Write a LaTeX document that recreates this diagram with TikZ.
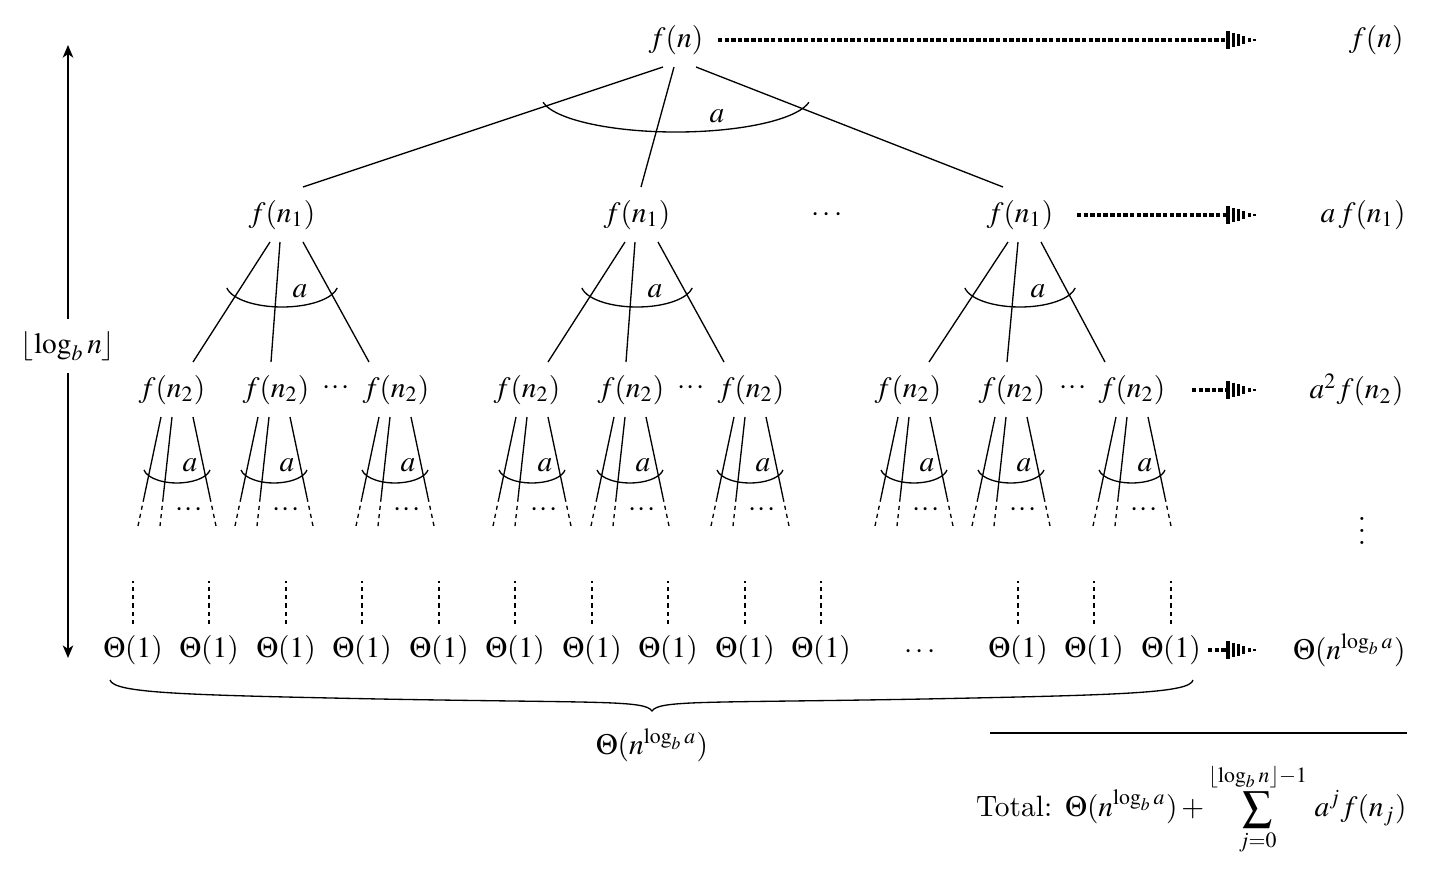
\documentclass[tikz,border=0pt]{standalone}
\usepackage{mathptmx}
\usetikzlibrary{calc,arrows.meta}

\tikzset{
  lbl/.style={inner sep=0pt},
  edge/.style={line width=0.45pt},
  leafdash/.style={line width=0.45pt, dash pattern=on 1.4pt off 1.4pt},
  dotline/.style={line width=1.4pt, dash pattern=on 1.5pt off 0.75pt},
  tipbar/.style={line width=1.05pt},
}

% three closely spaced centred dots
\newcommand\smalldots{${\cdot}\mkern1mu{\cdot}\mkern1mu{\cdot}$}

% thick dotted cost arrow, ending in a striped triangular tip at #2
\newcommand\costarrow[2]{%
  \draw[dotline] (#1) -- ($(#2)+(-31,0)$);
  \foreach \k in {0,...,5}{
    \draw[tipbar] ($(#2)+({-29+\k*5.3},{-9*(1-(\k*5.3+1)/30)})$)
               -- ($(#2)+({-29+\k*5.3},{9*(1-(\k*5.3+1)/30)})$);
  }
}

% fan of three edges below a level-2 node, fading into dashes
\newcommand\leaffan[2]{%
  \foreach \t/\b in {-11/-34, 0/-12, 21/44}{
    \coordinate (ft) at ($(#1)+({#2+\t},27)$);
    \coordinate (fb) at ($(#1)+({#2+\b},136)$);
    \draw[edge] (ft) -- ($(ft)!0.74!(fb)$);
    \draw[leafdash] ($(ft)!0.74!(fb)$) -- (fb);
  }
  \draw[edge] ($(#1)+({#2-28},80)$) arc[start angle=170,end angle=10,x radius=33.5,y radius=15.7];
  \node[lbl] at ($(#1)+({#2+18},75)$) {$a$};
  \node[lbl] at ($(#1)+({#2+17},120)$) {\smalldots};
}

\begin{document}
\begin{tikzpicture}[x=0.34pt,y=-0.34pt]
\useasboundingbox (0,0) rectangle (1437,873);

% ---- root ----
\node[lbl] (r) at (676,40) {$f(n)$};

% ---- level 1 ----
\node[lbl] (c1) at (282,215) {$f(n_1)$};
\node[lbl] (c2) at (637,215) {$f(n_1)$};
\node[lbl] (c3) at (1020,215) {$f(n_1)$};
\node[lbl] (c23) at (827,215) {$\cdots$};

\draw[edge] ($(r)+(-13,27)$) -- ($(c1)+(21,-28)$);
\draw[edge] ($(r)+(-2,27)$)  -- ($(c2)+(4,-28)$);
\draw[edge] ($(r)+(20,27)$)  -- ($(c3)+(-17,-28)$);
\draw[edge] ($(r)+(-133,62.25)$) arc[start angle=170,end angle=10,x radius=135,y radius=36];
\node[lbl] (ra) at (717,116) {$a$};

% ---- level 2 ----
\foreach \nm/\x in {g1/172,g2/276,g3/396,g4/527,g5/631,g6/751,g7/908,g8/1012,g9/1132}{
  \node[lbl] (\nm) at (\x,390) {$f(n_2)$};
}
\node[lbl] (d1) at (336,388) {\smalldots};
\node[lbl] (d2) at (691,388) {\smalldots};
\node[lbl] (d3) at (1073,388) {\smalldots};

\foreach \p/\ga/\gb/\gc in {c1/g1/g2/g3, c2/g4/g5/g6, c3/g7/g8/g9}{
  \draw[edge] ($(\p)+(-12,27)$) -- ($(\ga)+(21,-28)$);
  \draw[edge] ($(\p)+(-2,27)$)  -- ($(\gb)+(-5,-28)$);
  \draw[edge] ($(\p)+(21,27)$)  -- ($(\gc)+(-27,-28)$);
  \draw[edge] ($(\p)+(-55.1,73)$) arc[start angle=170,end angle=10,x radius=56,y radius=23];
  \node[lbl] at ($(\p)+(18,76)$) {$a$};
}

% ---- fans below level 2 ----
\leaffan{g1}{0}
\leaffan{g2}{-7}
\leaffan{g3}{-6}
\leaffan{g4}{0}
\leaffan{g5}{-6}
\leaffan{g6}{-6}
\leaffan{g7}{1}
\leaffan{g8}{-6}
\leaffan{g9}{-5}

% ---- leaves ----
\foreach \nm/\x in {t1/133,t2/209,t3/286,t4/362,t5/439,t6/515,t7/592,t8/668,t9/745,t10/821,t11/1018,t12/1094,t13/1171}{
  \node[lbl] (\nm) at (\x,650) {$\Theta(1)$};
  \draw[leafdash] ($(\nm)+(0,-26)$) -- ($(\nm)+(0,-69)$);
}
\node[lbl] (tdots) at (920,652) {$\cdots$};

% brace under the leaves
\coordinate (bl) at (110,680);
\coordinate (bt) at (652,711);
\coordinate (br) at (1193,680);
\draw[edge] (bl) .. controls (114,693) and (180,695) .. (380,699)
               .. controls (600,703) and (645,700) .. (bt)
               .. controls (659,700) and (704,703) .. (924,699)
               .. controls (1124,695) and (1190,693) .. (br);
\node[lbl] (bsum) at (652,745) {$\Theta(n^{\log_b a})$};

% ---- height arrow ----
\node[lbl,inner sep=4pt] (h) at (68,346) {$\lfloor\log_b n\rfloor$};
\coordinate (htop) at (68,45);
\coordinate (hbot) at (68,658);
\draw[edge,-{Stealth[length=4.3pt,width=3.6pt,inset=1.2pt]}] (h.north) -- (htop);
\draw[edge,-{Stealth[length=4.3pt,width=3.6pt,inset=1.2pt]}] (h.south) -- (hbot);

% ---- per-level costs ----
\node[lbl,anchor=east] (s0) at (1404,40) {$f(n)$};
\node[lbl,anchor=east] (s1) at (1406,215) {$a\,f(n_1)$};
\node[lbl,anchor=east] (s2) at (1404,390) {$a^2 f(n_2)$};
\node[lbl] (sv) at (1362,522) {$\vdots$};
\node[lbl,anchor=east] (s3) at (1406,650) {$\Theta(n^{\log_b a})$};

\coordinate (e0a) at (718,40);   \coordinate (e0b) at (1257,40);
\coordinate (e1a) at (1077,215); \coordinate (e1b) at (1257,215);
\coordinate (e2a) at (1192,390); \coordinate (e2b) at (1257,390);
\coordinate (e3a) at (1208,650); \coordinate (e3b) at (1257,650);
\costarrow{e0a}{e0b}
\costarrow{e1a}{e1b}
\costarrow{e2a}{e2b}
\costarrow{e3a}{e3b}

% ---- total ----
\draw[edge] (990,733) -- (1407,733);
\node[lbl,anchor=east] (tot) at (1407,809)
  {$\displaystyle \mbox{Total: }\Theta(n^{\log_b a}) + \sum_{j=0}^{\lfloor\log_b n\rfloor-1}\hspace{1.5pt} a^j f(n_j)$};
\end{tikzpicture}
\end{document}
